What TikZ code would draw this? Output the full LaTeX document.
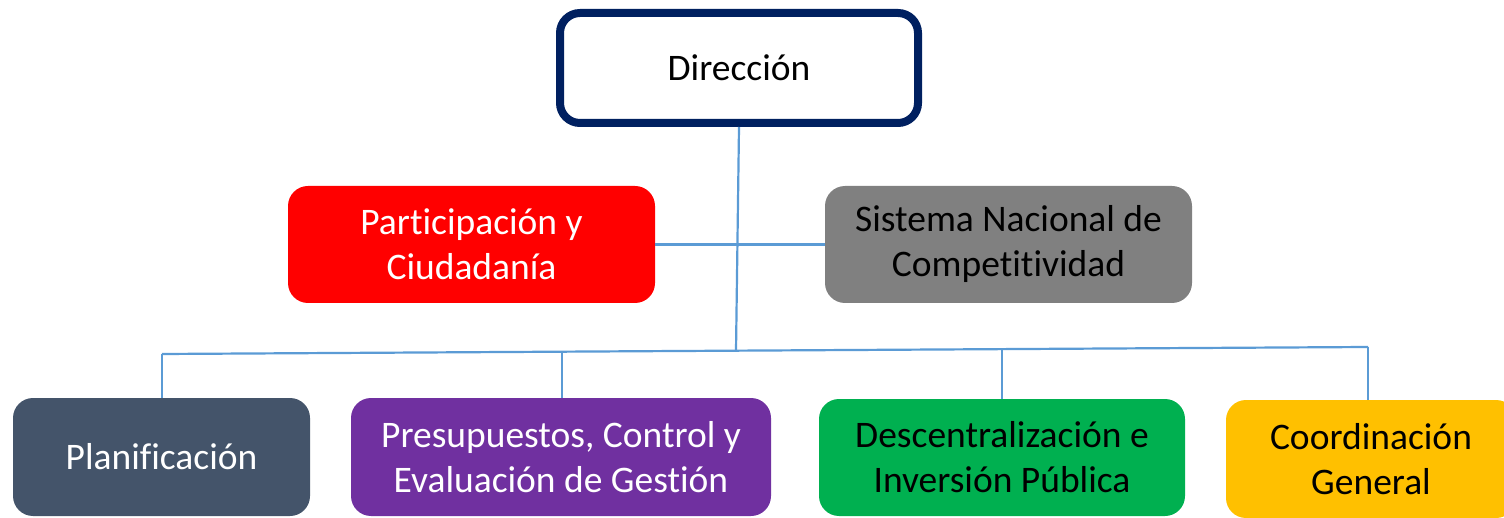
\documentclass[tikz,border=0pt]{standalone}
\usepackage{fontspec}
\setmainfont{Carlito}[Ligatures={NoCommon}]
\definecolor{navy}{HTML}{002060}
\definecolor{conn}{HTML}{5B9BD5}
\definecolor{cred}{HTML}{FF0000}
\definecolor{cgray}{HTML}{808080}
\definecolor{cslate}{HTML}{44546A}
\definecolor{cpurple}{HTML}{7030A0}
\definecolor{cgreen}{HTML}{00B050}
\definecolor{cgold}{HTML}{FFC000}
\begin{document}
\begin{tikzpicture}[x=1pt,y=-1pt,
  unitbox/.style={rounded corners=20pt, align=center, inner sep=0pt,
    font=\fontsize{37.5}{45}\selectfont},
  link/.style={draw=conn, line width=2.2pt}]
\useasboundingbox (0,0) rectangle (1504,518);
\node[unitbox, draw=navy, line width=8pt, fill=white, minimum width=358pt, minimum height=110pt] (dir) at (739,68) {Dirección};
\node[unitbox, fill=cred, text=white, minimum width=367pt, minimum height=117pt] (par) at (471.5,244.5) {Participación y\\Ciudadanía};
\node[unitbox, fill=cgray, text=black, minimum width=367pt, minimum height=117pt] (sis) at (1008.5,244.5) {Sistema Nacional de\\Competitividad};
\node[unitbox, fill=cslate, text=white, minimum width=297pt, minimum height=118pt] (pla) at (161.5,457) {Planificación};
\node[unitbox, fill=cpurple, text=white, minimum width=420pt, minimum height=118pt] (pre) at (561,457) {Presupuestos, Control y\\Evaluación de Gestión};
\node[unitbox, fill=cgreen, text=black, minimum width=366pt, minimum height=117pt] (des) at (1002,457.5) {Descentralización e\\Inversión Pública};
\node[unitbox, fill=cgold, text=black, minimum width=290pt, minimum height=118pt] (coo) at (1371,459) {Coordinación\\General};
\coordinate (busL) at (162,354);
\coordinate (busR) at (1368,347);
\coordinate (busM) at (736,350.7);
\coordinate (busP) at (562,351.7);
\coordinate (busD) at (1002,349.1);
\draw[link] (dir.south) -- (busM);
\draw[link] (par.east) -- (sis.west);
\draw[link] (busL) -- (busR);
\draw[link] (busL) -- (pla.north -| busL);
\draw[link] (busP) -- (pre.north -| busP);
\draw[link] (busD) -- (des.north);
\draw[link] (busR) -- (coo.north -| busR);
\end{tikzpicture}
\end{document}
